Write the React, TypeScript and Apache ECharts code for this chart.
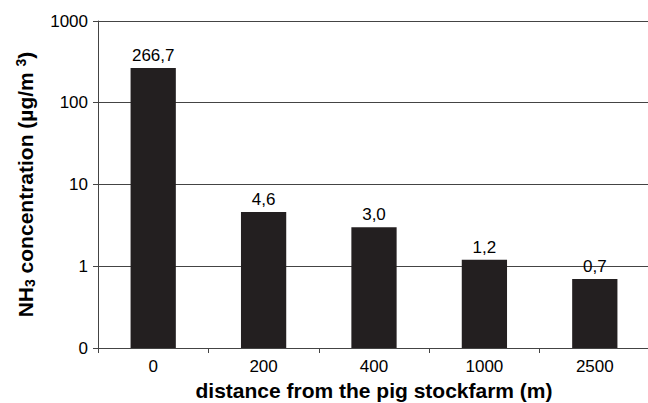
import React, { useEffect, useRef } from "react";
import * as echarts from "echarts";

const categories = ["0", "200", "400", "1000", "2500"];
const values = [266.7, 4.6, 3.0, 1.2, 0.7];
const yTicks = [0.1, 1, 10, 100, 1000];

const FONT = "'Liberation Sans', Arial, sans-serif";
const AXIS = "#444";

export default function App() {
  const ref = useRef<HTMLDivElement>(null);
  useEffect(() => {
    if (!ref.current) return;
    const chart = echarts.init(ref.current, null, { renderer: "svg" });
    const yMin = yTicks[0];
    chart.setOption({
      animation: false,
      grid: { left: 98, right: -2, top: 21, bottom: 55, containLabel: false, outerBoundsMode: "none" },
      xAxis: {
        type: "category",
        data: categories,
        name: "distance from the pig stockfarm (m)",
        nameLocation: "middle",
        nameGap: 32,
        nameTextStyle: { fontFamily: FONT, fontSize: 21, fontWeight: "bold", color: "#000" },
        axisLine: { lineStyle: { color: AXIS, width: 1 } },
        axisTick: { show: true, length: 5, lineStyle: { color: AXIS } },
        axisLabel: { fontFamily: FONT, fontSize: 17, color: "#000", margin: 10 },
      },
      yAxis: {
        type: "log",
        logBase: 10,
        min: yMin,
        max: yTicks[yTicks.length - 1],
        name: "{b|NH}{sub|3}{b| concentration (µg/m }{sup|3}{b|)}",
        nameLocation: "middle",
        nameGap: 61,
        nameRotate: 90,
        nameTextStyle: {
          fontFamily: FONT,
          fontSize: 21,
          fontWeight: "bold",
          color: "#000",
          rich: {
            b: { fontFamily: FONT, fontSize: 21, fontWeight: "bold", color: "#000" },
            sub: { fontFamily: FONT, fontSize: 14, fontWeight: "bold", color: "#000", verticalAlign: "bottom", padding: [9, 0, 0, 0] },
            sup: { fontFamily: FONT, fontSize: 14, fontWeight: "bold", color: "#000", verticalAlign: "top", padding: [0, 0, 9, 0] },
          },
        },
        axisLine: { show: true, lineStyle: { color: AXIS, width: 1 } },
        axisTick: { show: true, length: 5, lineStyle: { color: AXIS } },
        axisLabel: {
          fontFamily: FONT,
          fontSize: 17,
          color: "#000",
          margin: 10,
          formatter: (v: number) => (v < 1 ? "0" : String(Math.round(v))),
        },
        splitLine: { show: true, lineStyle: { color: AXIS, width: 1 } },
      },
      series: [
        {
          type: "custom",
          data: values.map((v, i) => [i, v]),
          encode: { x: 0, y: 1 },
          renderItem: (params: any, api: any) => {
            const idx = api.value(0);
            const v = api.value(1);
            const top = api.coord([idx, v]);
            const base = api.coord([idx, yMin]);
            const w = api.size([1, 0])[0] * 0.41;
            return {
              type: "group",
              children: [
                {
                  type: "rect",
                  shape: { x: top[0] - w / 2, y: top[1], width: w, height: base[1] - top[1] },
                  style: { fill: "#231f20" },
                },
                {
                  type: "text",
                  x: top[0],
                  y: top[1] - 4,
                  style: {
                    text: Number(v).toFixed(1).replace(".", ","),
                    align: "center",
                    verticalAlign: "bottom",
                    fontFamily: FONT,
                    fontSize: 17,
                    fill: "#000",
                  },
                },
              ],
            };
          },
        },
      ],
    });
    return () => chart.dispose();
  }, []);
  return <div ref={ref} style={{ width: 648, height: 403, position: "absolute", left: 0, top: 0 }} />;
}
